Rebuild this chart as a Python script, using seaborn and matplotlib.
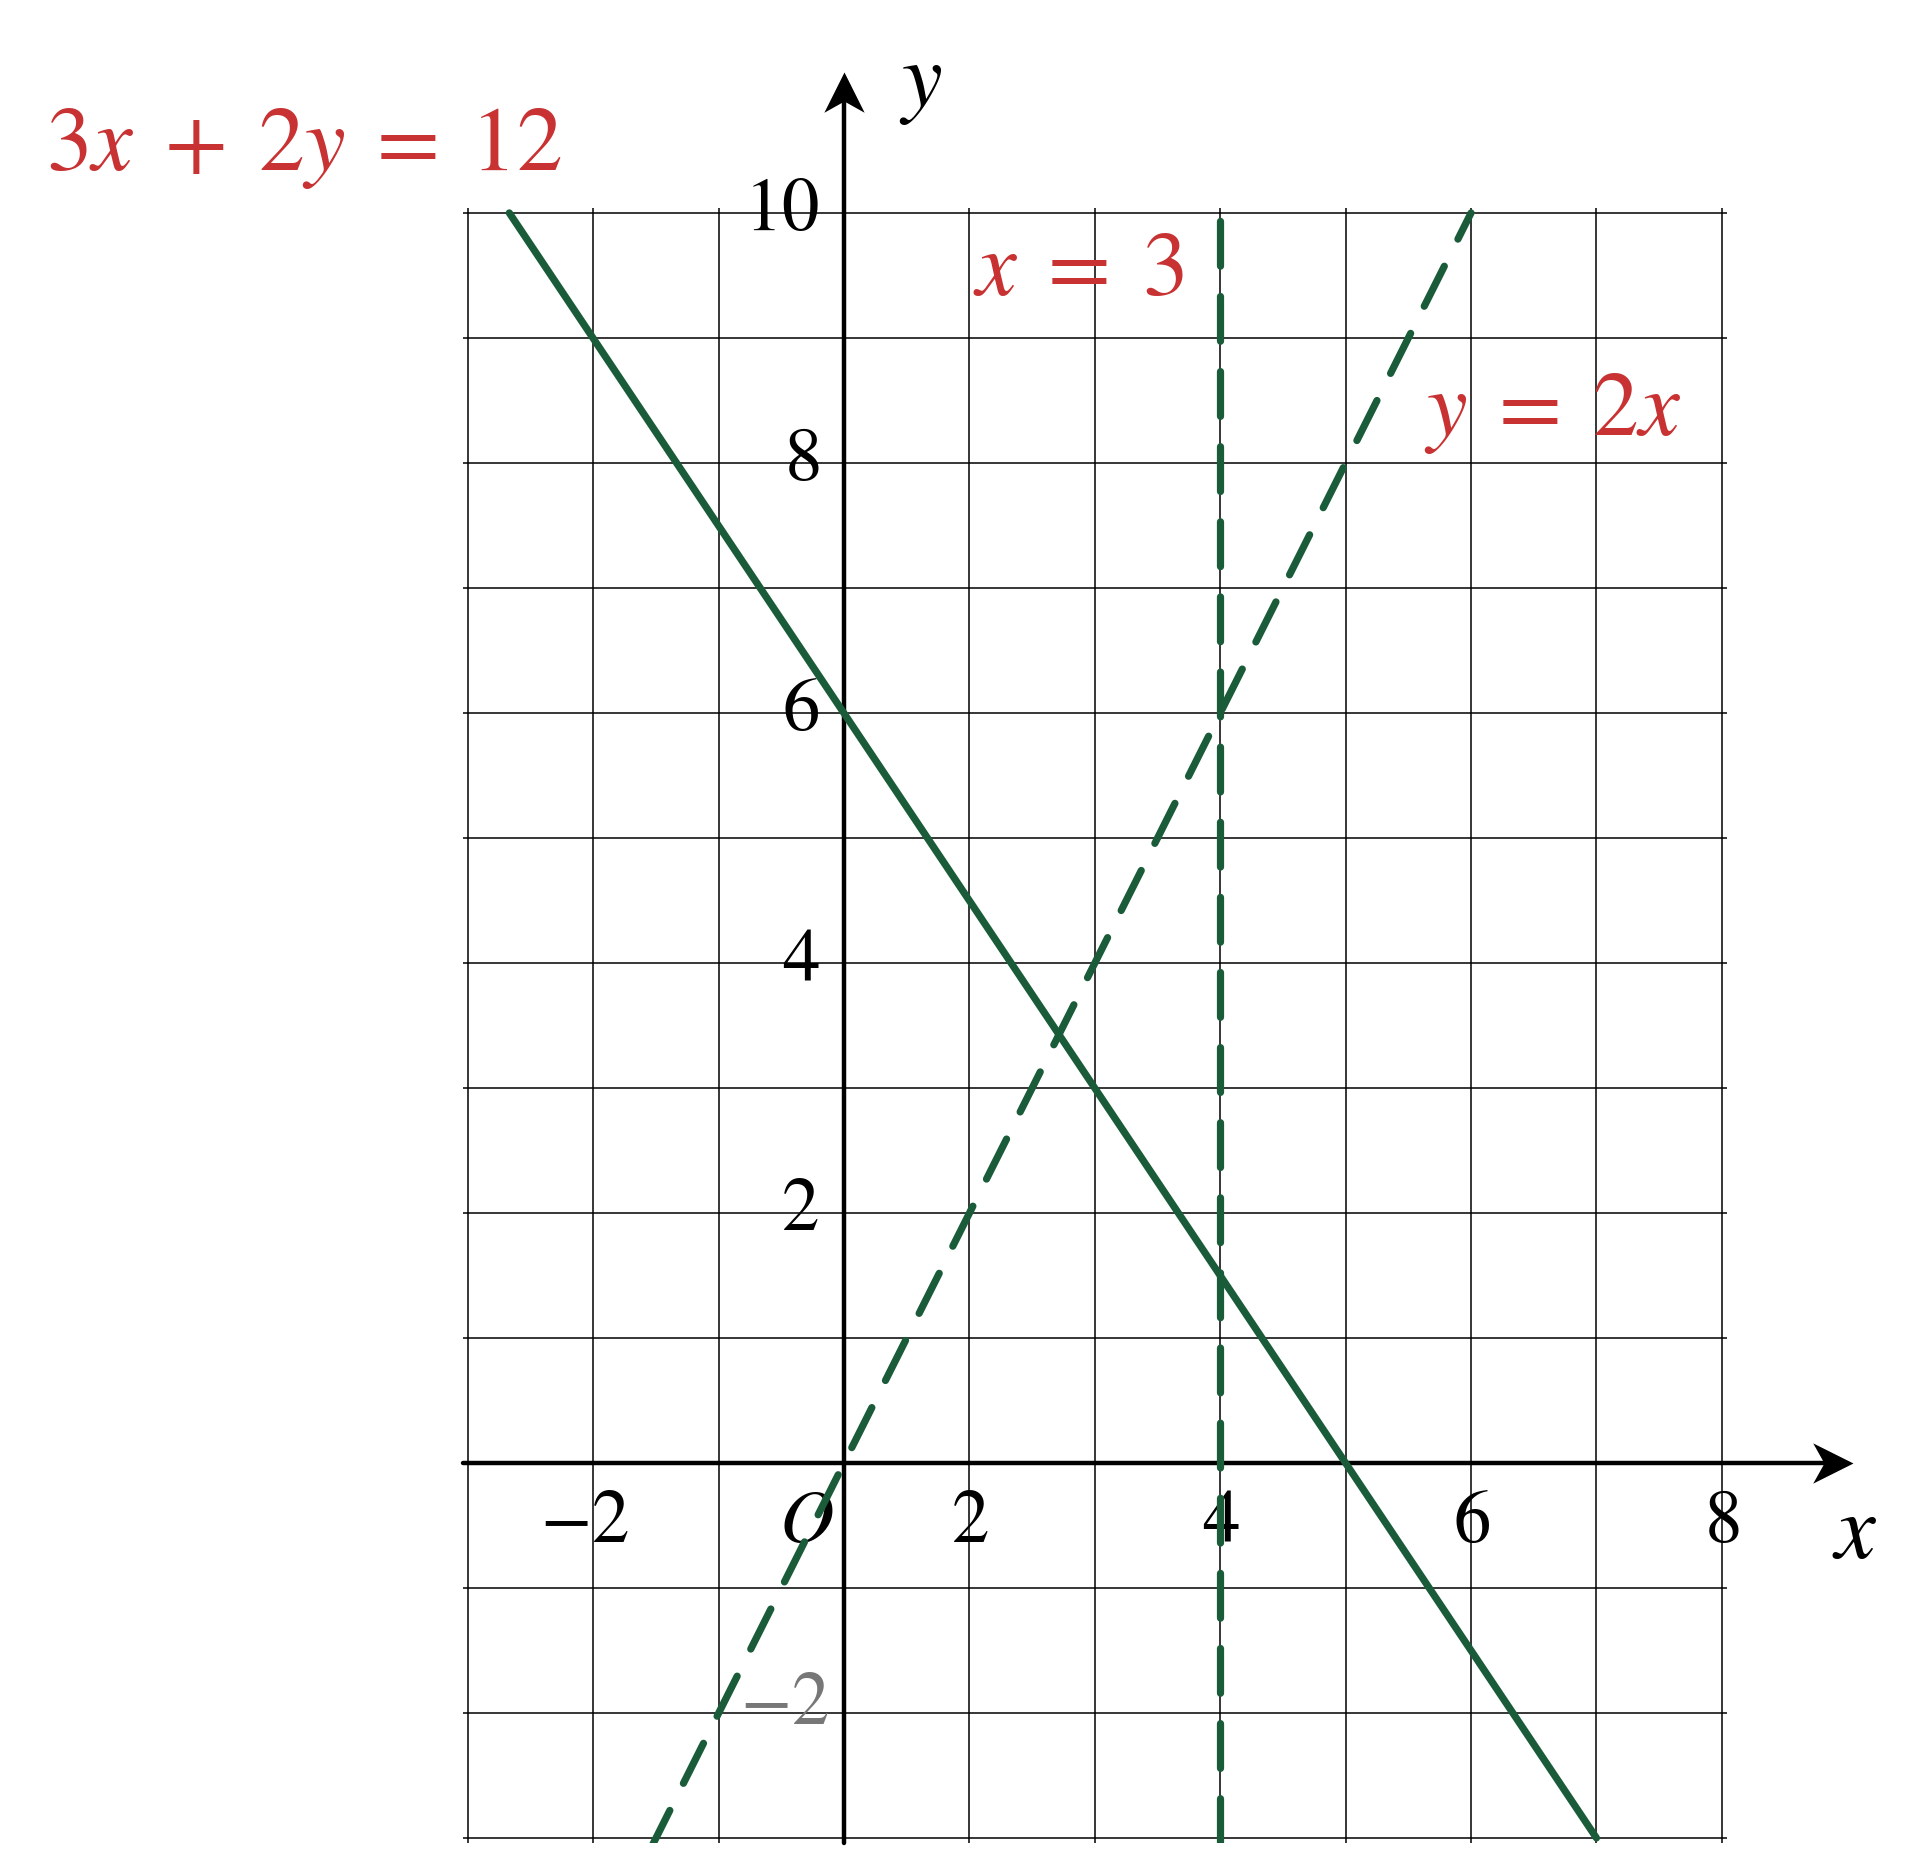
import matplotlib
import matplotlib.pyplot as plt
import seaborn as sns
from matplotlib.path import Path

matplotlib.use('Agg')

# lines (visible end points)
solid_x = [-2.67, 6.0]
solid_y = [10.0, -3.0]
slope_x = [-1.55, 5.0]
slope_y = [-3.1, 10.0]
vert_x = [3.0, 3.0]
vert_y = [-3.04, 10.04]

xtick_pos = [-2.07, -0.3, 1, 3, 5, 7]
xtick_labels = ['$-2$', '$O$', '$2$', '$4$', '$6$', '$8$']
ytick_pos = [10, 8, 6, 4, 2]
ytick_labels = ['$10$', '$8$', '$6$', '$4$', '$2$']

green = '#1a5c39'
red = '#c83232'

sns.set_style('white')
plt.rcParams['font.family'] = ['STIXGeneral', 'DejaVu Sans']
plt.rcParams['mathtext.fontset'] = 'stix'
plt.rcParams['text.color'] = 'black'

fig = plt.figure(figsize=(19.2, 18.5), dpi=100)
ax = fig.add_axes([0.2411, 0.0038, 0.6583, 0.8838])
ax.set_xlim(-3.04, 7.04)
ax.set_ylim(-3.04, 10.04)
ax.set_xticks(range(-3, 8))
ax.set_yticks(range(-3, 11))
ax.tick_params(length=0, labelbottom=False, labelleft=False)
ax.grid(True, color='black', lw=1.1)
ax.set_axisbelow(True)
for s in ax.spines.values():
    s.set_visible(False)

# axes with stealth arrow heads
head_r = Path([(0, 0), (-1, 0.5), (-0.72, 0), (-1, -0.5), (0, 0)],
              [Path.MOVETO, Path.LINETO, Path.LINETO, Path.LINETO, Path.CLOSEPOLY])
head_u = Path([(0, 0), (0.5, -1), (0, -0.72), (-0.5, -1), (0, 0)],
              [Path.MOVETO, Path.LINETO, Path.LINETO, Path.LINETO, Path.CLOSEPOLY])
ax.plot([-3.04, 7.9], [0, 0], color='black', lw=3.2, clip_on=False, zorder=3)
ax.plot([0, 0], [-3.04, 11.0], color='black', lw=3.2, clip_on=False, zorder=3)
ax.plot([8.05], [0], marker=head_r, ms=58, color='black', mew=0, clip_on=False, zorder=3)
ax.plot([0], [11.13], marker=head_u, ms=58, color='black', mew=0, clip_on=False, zorder=3)

sns.lineplot(x=solid_x, y=solid_y, ax=ax, color=green, lw=5.2, sort=False, estimator=None,
             zorder=4)
sns.lineplot(x=slope_x, y=slope_y, ax=ax, color=green, lw=5.2, sort=False, estimator=None,
             ls=(0, (6.2, 4.2)), dash_capstyle='round', zorder=4)
sns.lineplot(x=vert_x, y=vert_y, ax=ax, color=green, lw=5.2, sort=False, estimator=None,
             ls=(0, (6.2, 4.2)), dash_capstyle='round', zorder=4)

for p, t in zip(xtick_pos, xtick_labels):
    ax.text(p, -0.63, t, ha='center', va='baseline', fontsize=54, color='black', zorder=3)
for p, t in zip(ytick_pos, ytick_labels):
    ax.text(-0.2, p, t, ha='right', va='center', fontsize=54, color='black', zorder=3)
ax.text(-0.12, -1.95, '$-2$', ha='right', va='center', fontsize=54, color='#777777', zorder=3)

ax.text(8.06, -0.59, '$x$', ha='center', va='center', fontsize=66, color='black')
ax.text(0.61, 11.02, '$y$', ha='center', va='center', fontsize=66, color='black')

ax.text(-4.31, 10.34, r'$3x\;+\;2y\;=\;12$', ha='center', va='baseline', fontsize=66, color=red)
ax.text(1.87, 9.34, r'$x\;=\;3$', ha='center', va='baseline', fontsize=66, color=red)
ax.text(5.65, 8.22, r'$y\;=\;2x$', ha='center', va='baseline', fontsize=66, color=red)

fig.savefig('out.png', dpi=100)
